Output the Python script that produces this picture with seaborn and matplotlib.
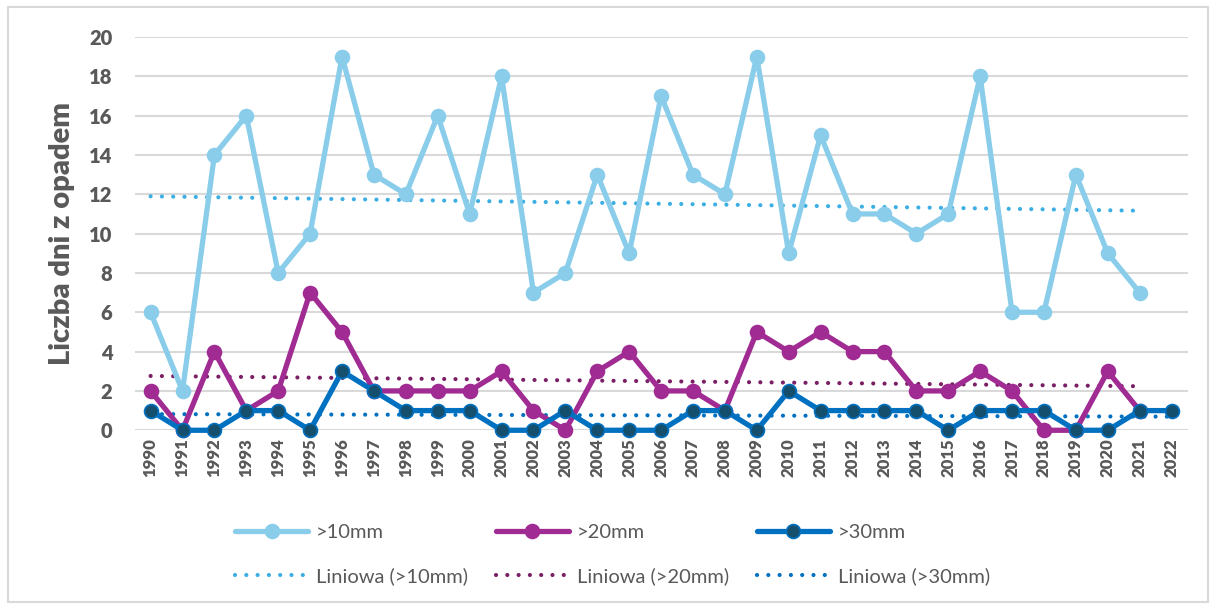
import numpy as np
import pandas as pd
import matplotlib
matplotlib.use("Agg")
import matplotlib.pyplot as plt
from matplotlib.patches import Rectangle
import seaborn as sns

# Annual counts of days with precipitation above thresholds
years = list(range(1990, 2023))
over10 = [6, 2, 14, 16, 8, 10, 19, 13, 12, 16, 11, 18, 7, 8, 13, 9, 17, 13, 12, 19,
          9, 15, 11, 11, 10, 11, 18, 6, 6, 13, 9, 7]
over20 = [2, 0, 4, 1, 2, 7, 5, 2, 2, 2, 2, 3, 1, 0, 3, 4, 2, 2, 1, 5,
          4, 5, 4, 4, 2, 2, 3, 2, 0, 0, 3, 1]
over30 = [1, 0, 0, 1, 1, 0, 3, 2, 1, 1, 1, 0, 0, 1, 0, 0, 0, 1, 1, 0,
          2, 1, 1, 1, 1, 0, 1, 1, 1, 0, 0, 1, 1]
series_labels = [">10mm", ">20mm", ">30mm"]
trend_labels = ["Liniowa (>10mm)", "Liniowa (>20mm)", "Liniowa (>30mm)"]
y_label = "Liczba dni z opadem"
y_ticks = list(range(0, 21, 2))

sns.set_theme(style="white")
plt.rcParams["font.family"] = ["Lato", "DejaVu Sans"]

line_colors = ["#89CDEB", "#A02B93", "#0070C0"]
face_colors = ["#89CDEB", "#A02B93", "#154F6E"]
trend_colors = ["#3BAEE3", "#7A1F66", "#0070C0"]
text_color = "#595959"

fig = plt.figure(figsize=(12.13, 6.06), dpi=100)
ax = fig.add_axes([0.111, 0.290, 0.868, 0.649])

fig.patches.append(Rectangle((0.007, 0.006), 0.989, 0.982, transform=fig.transFigure,
                             fill=False, edgecolor="#D9D9D9", linewidth=1.5, zorder=0))

for vals, lab, lc, fc, tc, tlab in zip([over10, over20, over30], series_labels,
                                         line_colors, face_colors, trend_colors, trend_labels):
    df = pd.DataFrame({"rok": years[:len(vals)], "dni": vals})
    sns.lineplot(data=df, x="rok", y="dni", ax=ax, color=lc, linewidth=3.8,
                 marker="o", markersize=10, markerfacecolor=fc, markeredgecolor=lc,
                 markeredgewidth=1.2, clip_on=False, zorder=4, label=lab,
                 solid_capstyle="round", solid_joinstyle="round")
    # Linear trend fitted to the series
    coef = np.polyfit(df["rok"], df["dni"], 1)
    df["trend"] = np.polyval(coef, df["rok"])
    sns.lineplot(data=df, x="rok", y="trend", ax=ax, color=tc, linewidth=3.0,
                 linestyle=(0, (0.01, 2.7)), dash_capstyle="round", zorder=3,
                 label=tlab)

ax.set_xlim(1989.5, 2022.5)
ax.set_ylim(0, 20)
ax.set_yticks(y_ticks)
ax.set_xticks(years)
ax.set_xticklabels([str(y) for y in years], rotation=90, fontsize=12,
                   fontweight="heavy", color=text_color)
ax.set_yticklabels([str(t) for t in y_ticks], fontsize=14.5, fontweight="heavy",
                   color=text_color)
ax.tick_params(axis="both", length=0, pad=6)
ax.tick_params(axis="y", pad=16)
ax.yaxis.grid(True, color="#D9D9D9", linewidth=1.5)
ax.set_axisbelow(True)
for s in ax.spines.values():
    s.set_visible(False)
ax.set_xlabel("")
ax.set_ylabel(y_label, fontsize=21, fontweight="heavy", color=text_color, labelpad=10)

h, l = ax.get_legend_handles_labels()
order = [l.index(series_labels[0]), l.index(trend_labels[0]),
         l.index(series_labels[1]), l.index(trend_labels[1]),
         l.index(series_labels[2]), l.index(trend_labels[2])]
ax.get_legend().remove()
leg = fig.legend([h[i] for i in order], [l[i] for i in order], ncol=3,
                 loc="center", bbox_to_anchor=(0.505, 0.085), frameon=False,
                 fontsize=14.5, handlelength=3.6, handletextpad=0.4,
                 columnspacing=1.4, labelspacing=1.3, labelcolor=text_color)

fig.savefig("out.png", dpi=100, facecolor="white")
